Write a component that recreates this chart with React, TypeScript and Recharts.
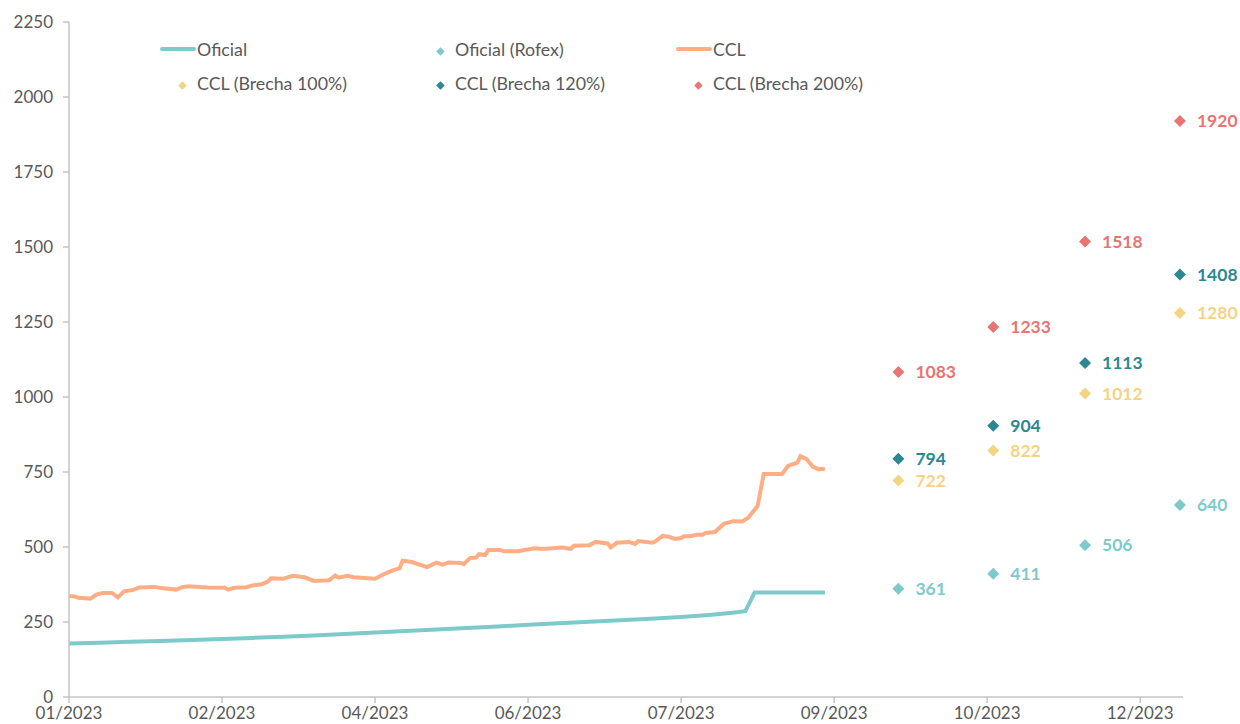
import { ComposedChart, Line, Scatter, XAxis, YAxis } from 'recharts';

// días desde el 03/01/2023
const BASE = Date.UTC(2023, 0, 3);

const xTicks = [0, 50, 100, 150, 200, 250, 300, 350];
const yTicks = [0, 250, 500, 750, 1000, 1250, 1500, 1750, 2000, 2250];

const oficialDays = [0, 10, 20, 30, 40, 50, 60, 70, 80, 90, 100, 110, 120, 130, 140, 150, 160, 170, 180, 190, 200, 210, 216, 221, 224, 247];
const oficialValues = [178, 181, 184, 187, 190, 193, 197, 201, 205, 210, 215, 220, 225, 230, 235, 241, 246, 251, 256, 261, 267, 274, 280, 286, 348, 348];

const cclDays = [0, 2, 3, 7, 9, 11, 14, 16, 18, 21, 23, 28, 30, 35, 37, 39, 45, 51, 52, 54, 58, 60, 63, 65, 66, 70, 73, 77, 80, 85, 87, 88, 91, 93, 100, 103, 106, 108, 109, 112, 117, 120, 122, 124, 128, 129, 131, 133, 134, 136, 137, 141, 142, 147, 149, 150, 152, 154, 156, 158, 161, 164, 165, 170, 172, 176, 177, 179, 183, 185, 186, 190, 191, 194, 196, 198, 200, 201, 203, 205, 207, 208, 211, 214, 217, 220, 222, 225, 227, 233, 235, 238, 239, 241, 243, 245, 246, 247];
const cclValues = [337, 335, 331, 328, 341, 347, 347, 332, 352, 357, 365, 367, 363, 358, 366, 369, 365, 364, 358, 364, 366, 372, 376, 385, 396, 394, 404, 399, 387, 389, 405, 398, 404, 399, 394, 410, 423, 429, 454, 450, 433, 448, 441, 448, 447, 443, 463, 465, 476, 473, 490, 490, 486, 486, 491, 492, 496, 494, 494, 496, 498, 494, 504, 506, 517, 512, 499, 514, 517, 510, 520, 515, 515, 537, 534, 527, 530, 536, 536, 541, 541, 547, 550, 577, 586, 585, 598, 637, 743, 743, 771, 781, 803, 793, 768, 759, 761, 758];

const proyDays = [271, 302, 332, 363];
const rofexValues = [361, 411, 506, 640];
const brecha100Values = [722, 822, 1012, 1280];
const brecha120Values = [794, 904, 1113, 1408];
const brecha200Values = [1083, 1233, 1518, 1920];

const C_OFICIAL = '#7ecacb';
const C_CCL = '#ffad84';
const C_B100 = '#f3d483';
const C_B120 = '#2b8891';
const C_B200 = '#e87473';
const FONT = 'Lato, "Open Sans", sans-serif';

const toRows = (days: number[], vals: number[]) => days.map((d, i) => ({ day: d, value: vals[i] }));

const oficialData = toRows(oficialDays, oficialValues);
const cclData = toRows(cclDays, cclValues);
const rofexData = toRows(proyDays, rofexValues);
const b100Data = toRows(proyDays, brecha100Values);
const b120Data = toRows(proyDays, brecha120Values);
const b200Data = toRows(proyDays, brecha200Values);

function fmtTick(d: number) {
  const dt = new Date(BASE + d * 86400000);
  return `${String(dt.getUTCMonth() + 1).padStart(2, '0')}/${dt.getUTCFullYear()}`;
}

function DiamondLabel(props: any) {
  const { cx, cy, fill, payload } = props;
  if (cx == null || cy == null) return null;
  const r = 6;
  return (
    <g>
      <polygon points={`${cx},${cy - r} ${cx + r},${cy} ${cx},${cy + r} ${cx - r},${cy}`} fill={fill} />
      <text x={cx + 17} y={cy} dy="0.35em" fill={fill} fontSize={17.5} fontWeight={700} fontFamily={FONT}>
        {payload.value}
      </text>
    </g>
  );
}

const legendItems = [
  { name: 'Oficial', color: C_OFICIAL, kind: 'line' },
  { name: 'Oficial (Rofex)', color: C_OFICIAL, kind: 'diamond' },
  { name: 'CCL', color: C_CCL, kind: 'line' },
  { name: 'CCL (Brecha 100%)', color: C_B100, kind: 'diamond' },
  { name: 'CCL (Brecha 120%)', color: C_B120, kind: 'diamond' },
  { name: 'CCL (Brecha 200%)', color: C_B200, kind: 'diamond' },
];

function LegendBox() {
  return (
    <div style={{ position: 'absolute', left: 160, top: 37, width: 780, display: 'flex', flexWrap: 'wrap', rowGap: 11, fontFamily: FONT, fontSize: 17.8, color: '#595959' }}>
      {legendItems.map((it) => (
        <div key={it.name} style={{ width: 258, height: 23, display: 'flex', alignItems: 'center' }}>
          {it.kind === 'line' ? (
            <span style={{ display: 'inline-block', width: 36, height: 4, borderRadius: 2, background: it.color }} />
          ) : (
            <span style={{ display: 'inline-block', width: 36, textAlign: 'center' }}>
              <span style={{ display: 'inline-block', width: 6, height: 6, background: it.color, transform: 'rotate(45deg) translateY(-2px)', marginLeft: 6 }} />
            </span>
          )}
          <span style={{ marginLeft: 1 }}>{it.name}</span>
        </div>
      ))}
    </div>
  );
}

export default function App() {
  const tick = { fontSize: 17, fill: '#595959', fontFamily: FONT };
  return (
    <div style={{ position: 'absolute', left: 0, top: 0, width: 1240, height: 724, overflow: 'hidden', background: '#fff', fontFamily: FONT }}>
      <ComposedChart width={1240} height={724} margin={{ top: 22, right: 57, bottom: 0, left: 0 }}>
        <XAxis
          type="number"
          dataKey="day"
          domain={[0, 364]}
          ticks={xTicks}
          tickFormatter={fmtTick}
          height={27}
          tick={tick}
          tickSize={6}
          tickMargin={4}
          stroke="#c4c4c4"
          strokeWidth={1.5}
        />
        <YAxis
          type="number"
          domain={[0, 2250]}
          ticks={yTicks}
          width={69}
          tick={tick}
          tickSize={6}
          tickMargin={10}
          stroke="#c4c4c4"
          strokeWidth={1.5}
        />
        <Line data={oficialData} dataKey="value" type="linear" stroke={C_OFICIAL} strokeWidth={4} dot={false} activeDot={false} isAnimationActive={false} />
        <Line data={cclData} dataKey="value" type="linear" stroke={C_CCL} strokeWidth={4} dot={false} activeDot={false} isAnimationActive={false} />
        <Scatter data={rofexData} dataKey="value" fill={C_OFICIAL} shape={DiamondLabel} isAnimationActive={false} />
        <Scatter data={b100Data} dataKey="value" fill={C_B100} shape={DiamondLabel} isAnimationActive={false} />
        <Scatter data={b120Data} dataKey="value" fill={C_B120} shape={DiamondLabel} isAnimationActive={false} />
        <Scatter data={b200Data} dataKey="value" fill={C_B200} shape={DiamondLabel} isAnimationActive={false} />
      </ComposedChart>
      <LegendBox />
    </div>
  );
}
